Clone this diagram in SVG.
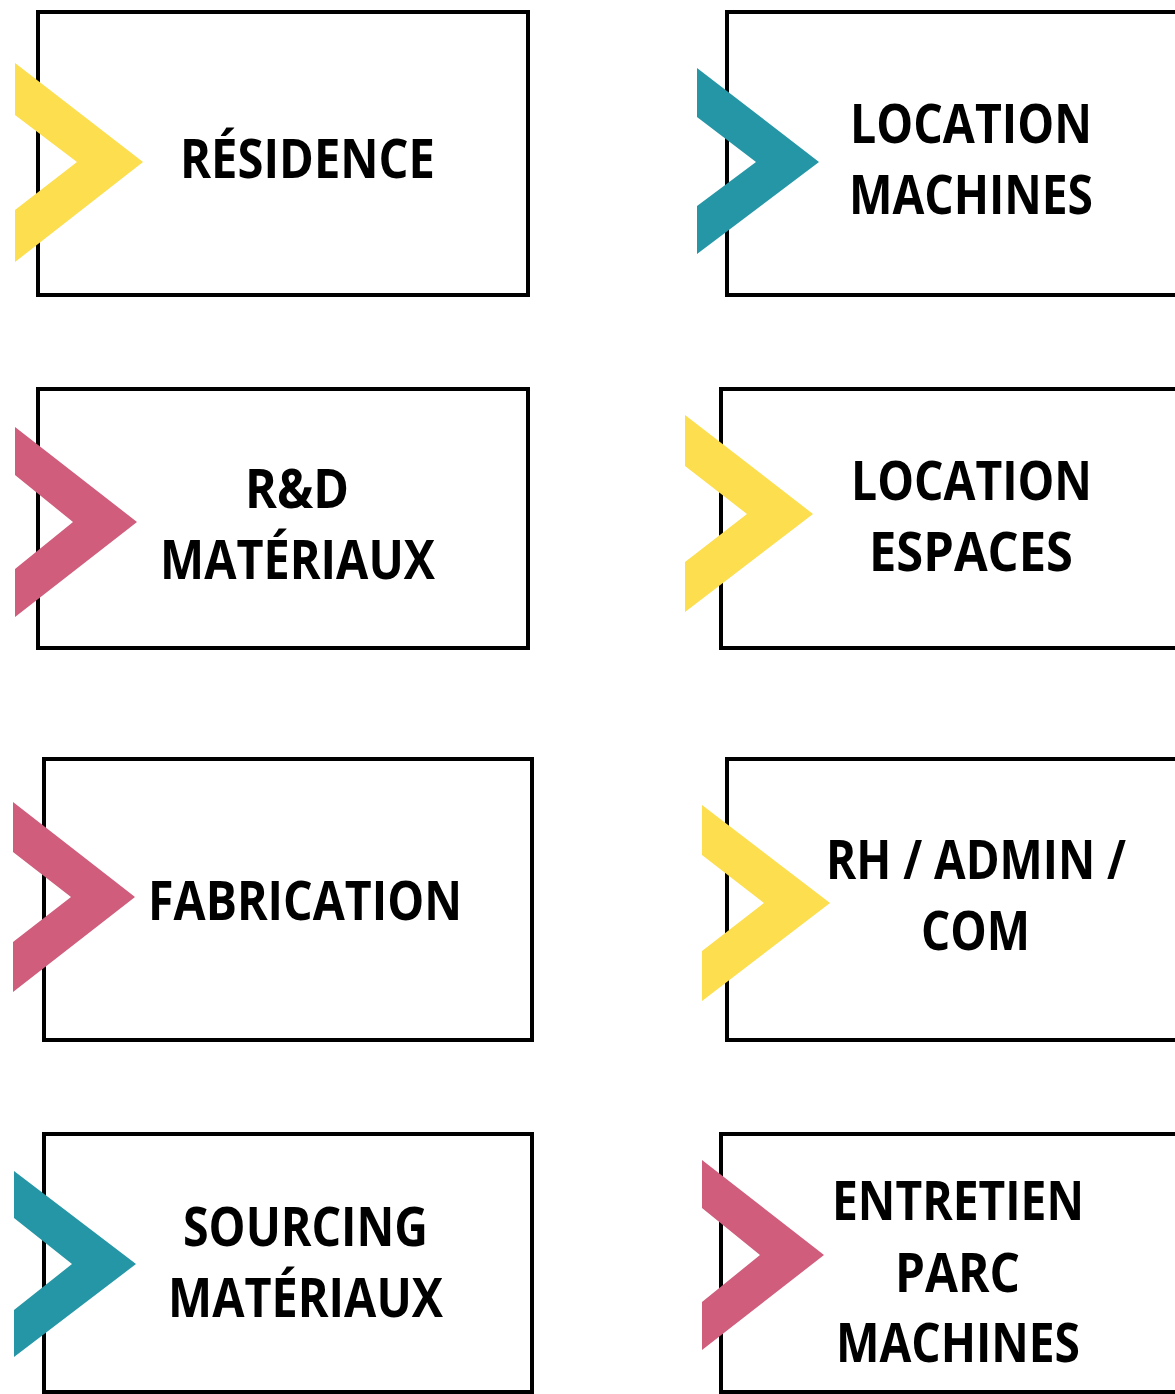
<svg xmlns="http://www.w3.org/2000/svg" width="1175" height="1394" viewBox="0 0 1175 1394">
<style>
.box{fill:#fff;stroke:#000;stroke-width:4}
.y{fill:#FCDE4E}.t{fill:#2596A5}.p{fill:#CF5D7B}
.lb{font-family:"Open Sans","Liberation Sans",sans-serif;font-weight:700;font-size:54px;fill:#000}
</style>
<rect width="1175" height="1394" fill="#fff"/>
<g id="residence">
<rect class="box" x="38" y="12" width="490" height="283"/>
<polygon class="y" points="15,63 143,162 15,262 15,210 77,162 15,115"/>
<text class="lb" x="180" y="178" textLength="255" lengthAdjust="spacingAndGlyphs">RÉSIDENCE</text>
</g>
<g id="location-machines">
<rect class="box" x="727" y="12" width="500" height="283"/>
<polygon class="t" points="697,68 819,162 697,254 697,206 756,162 697,117"/>
<text class="lb" x="850" y="143" textLength="242" lengthAdjust="spacingAndGlyphs">LOCATION</text>
<text class="lb" x="849" y="214" textLength="244" lengthAdjust="spacingAndGlyphs">MACHINES</text>
</g>
<g id="rd-materiaux">
<rect class="box" x="38" y="389" width="490" height="259"/>
<polygon class="p" points="15,427 137,522 15,617 15,569 73,522 15,475"/>
<text class="lb" x="245" y="508" textLength="104" lengthAdjust="spacingAndGlyphs">R&amp;D</text>
<text class="lb" x="160" y="579" textLength="275" lengthAdjust="spacingAndGlyphs">MATÉRIAUX</text>
</g>
<g id="location-espaces">
<rect class="box" x="721" y="389" width="500" height="259"/>
<polygon class="y" points="685,415 813,514 685,612 685,562 747,514 685,466"/>
<text class="lb" x="851" y="500" textLength="241" lengthAdjust="spacingAndGlyphs">LOCATION</text>
<text class="lb" x="869" y="571" textLength="204" lengthAdjust="spacingAndGlyphs">ESPACES</text>
</g>
<g id="fabrication">
<rect class="box" x="44" y="759" width="488" height="281"/>
<polygon class="p" points="13,802 135,897 13,992 13,942 71,897 13,852"/>
<text class="lb" x="148" y="920" textLength="314" lengthAdjust="spacingAndGlyphs">FABRICATION</text>
</g>
<g id="rh-admin-com">
<rect class="box" x="727" y="759" width="500" height="281"/>
<polygon class="y" points="702,805 830,903 702,1001 702,951 764,903 702,855"/>
<text class="lb" x="826" y="879" textLength="300" lengthAdjust="spacingAndGlyphs">RH / ADMIN /</text>
<text class="lb" x="921" y="950" textLength="109" lengthAdjust="spacingAndGlyphs">COM</text>
</g>
<g id="sourcing-materiaux">
<rect class="box" x="44" y="1134" width="488" height="258"/>
<polygon class="t" points="14,1171 136,1264 14,1357 14,1310 72,1264 14,1218"/>
<text class="lb" x="183" y="1246" textLength="245" lengthAdjust="spacingAndGlyphs">SOURCING</text>
<text class="lb" x="168" y="1317" textLength="275" lengthAdjust="spacingAndGlyphs">MATÉRIAUX</text>
</g>
<g id="entretien-parc-machines">
<rect class="box" x="721" y="1134" width="500" height="258"/>
<polygon class="p" points="702,1160 824,1255 702,1350 702,1302 760,1255 702,1208"/>
<text class="lb" x="832" y="1220" textLength="252" lengthAdjust="spacingAndGlyphs">ENTRETIEN</text>
<text class="lb" x="895" y="1292" textLength="125" lengthAdjust="spacingAndGlyphs">PARC</text>
<text class="lb" x="836" y="1362" textLength="244" lengthAdjust="spacingAndGlyphs">MACHINES</text>
</g>
<g id="connectors"/>
</svg>
